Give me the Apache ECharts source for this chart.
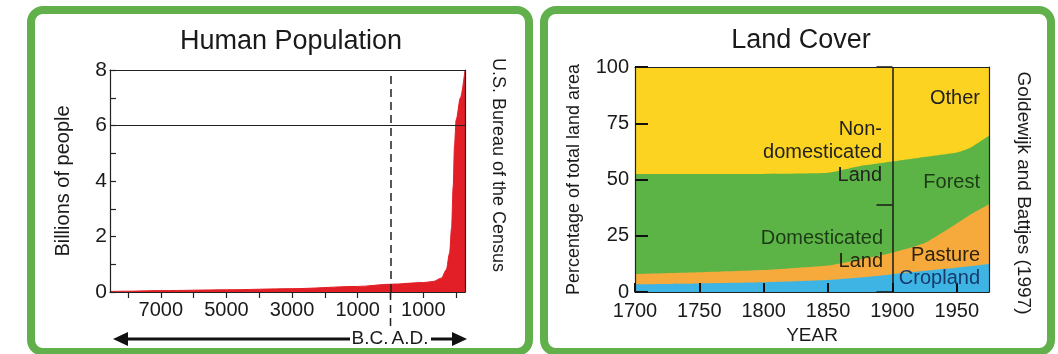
<!DOCTYPE html>
<html>
<head>
<meta charset="utf-8">
<script src="https://cdn.jsdelivr.net/npm/echarts@6/dist/echarts.min.js"></script>
<style>
html,body{margin:0;padding:0;background:#fff;width:1058px;height:354px;overflow:hidden;}
.panel{position:absolute;box-sizing:border-box;border:8px solid #62b04c;border-radius:16px;background:#fff;}
#chart{position:absolute;left:0;top:0;width:1058px;height:354px;}
</style>
</head>
<body>
<div class="panel" style="left:27px;top:6px;width:506px;height:350px;"></div>
<div class="panel" style="left:540px;top:6px;width:515px;height:350px;"></div>
<div id="chart"></div>
<script>
// ---- Human Population (years: negative = B.C.) ----
const popYears  = [-8550, -8000, -7000, -5000, -3000, -1000, 0, 1000, 1300, 1550, 1700, 1800, 1860, 1910, 1950, 2000, 2130, 2270];
const popValues = [0.02, 0.03, 0.05, 0.08, 0.12, 0.2, 0.28, 0.34, 0.38, 0.5, 0.8, 1.4, 2.3, 3.8, 5.3, 6.2, 7.0, 8.0];
const popTickYears  = [-8000, -7000, -6000, -5000, -4000, -3000, -2000, -1000, 0, 1000, 2000];
const popLabelYears = [-7000, -5000, -3000, -1000, 1000];
const popRefLine = 6;
const eraDivide = 0;

// ---- Land Cover (percent of total land area) ----
const landYears = [1700, 1750, 1800, 1850, 1875, 1900, 1925, 1950, 1960, 1975];
const cropland  = [3.4, 3.8, 4.3, 5.3, 6.4, 7.9, 9.4, 10.8, 11.4, 12.4];
const pasture   = [4.6, 5.0, 5.5, 6.5, 8.1, 9.6, 12.4, 19.7, 22.8, 26.6];
const forest    = [44.5, 43.7, 42.7, 41.2, 41.5, 40.5, 38.2, 31.5, 29.8, 30.5];
const other     = [47.5, 47.5, 47.5, 47.0, 44.0, 42.0, 40.0, 38.0, 36.0, 30.5];
const landDivideYear = 1900;
const divideTickValues = [100, 39, 0];

const FONT = '"Liberation Sans", Arial, sans-serif';
const chart = echarts.init(document.getElementById('chart'), null, {renderer: 'canvas'});

function pairs(xs, ys) { return xs.map((x, i) => [x, ys[i]]); }
// running totals, so each layer is painted from the axis up to its own top
const layers = [cropland, pasture, forest, other];
const tops = [];
layers.reduce((acc, arr) => { const t = arr.map((v, i) => +(acc[i] + v).toFixed(2)); tops.push(t); return t; }, landYears.map(() => 0));
const [cropTop, pastureTop, forestTop, otherTop] = tops;

const boxAxis = {show: true, axisLine: {show: true, onZero: false, lineStyle: {color: '#222', width: 1.2}}, axisTick: {show: false}, axisLabel: {show: false}, splitLine: {show: false}, z: 10};

function txt(id, x, y, text, opt) {
  opt = opt || {};
  return {type: 'text', id: id, x: x, y: y, z: 100, rotation: opt.rot || 0,
    style: {text: text, fill: opt.color || '#1a1a1a', font: (opt.size || 20) + 'px ' + FONT,
      align: opt.align || 'center', verticalAlign: 'middle'}};
}
function layer(name, top, color, extra) {
  return Object.assign({name: name, type: 'line', xAxisIndex: 2, yAxisIndex: 2, data: pairs(landYears, top),
    smooth: 0.15, symbol: 'none', showSymbol: false, lineStyle: {width: 0},
    itemStyle: {color: color}, areaStyle: {color: color, opacity: 1, origin: 'start'}}, extra || {});
}

const option = {
  animation: false,
  backgroundColor: 'transparent',
  grid: [
    {left: 110, top: 70, width: 355, height: 222},
    {left: 635, top: 67, width: 354, height: 225}
  ],
  xAxis: [
    {gridIndex: 0, type: 'value', min: -8550, max: 2270, position: 'bottom', z: 10,
      axisLine: {onZero: false, lineStyle: {color: '#222', width: 1.2}},
      axisTick: {show: true, inside: false, length: 6, customValues: popTickYears, lineStyle: {color: '#222', width: 1.2}},
      axisLabel: {customValues: popLabelYears, formatter: v => String(Math.abs(v)), color: '#1a1a1a', fontSize: 20, fontFamily: FONT, margin: 8},
      splitLine: {show: false}},
    Object.assign({gridIndex: 0, type: 'value', min: -8550, max: 2270, position: 'top'}, boxAxis),
    {gridIndex: 1, type: 'value', min: 1700, max: 1975, interval: 50, position: 'bottom', z: 10,
      name: 'YEAR', nameLocation: 'middle', nameGap: 34,
      nameTextStyle: {color: '#1a1a1a', fontSize: 19, fontFamily: FONT},
      axisLine: {onZero: false, lineStyle: {color: '#222', width: 1.2}},
      axisTick: {show: true, inside: true, length: 9, lineStyle: {color: '#111', width: 2}},
      axisLabel: {formatter: v => String(v), color: '#1a1a1a', fontSize: 20, fontFamily: FONT, margin: 9, showMaxLabel: false},
      splitLine: {show: false}},
    Object.assign({gridIndex: 1, type: 'value', min: 1700, max: 1975, position: 'top'}, boxAxis)
  ],
  yAxis: [
    {gridIndex: 0, type: 'value', min: 0, max: 8, interval: 1, position: 'left', z: 10,
      name: 'Billions of people', nameLocation: 'middle', nameGap: 37,
      nameTextStyle: {color: '#1a1a1a', fontSize: 20, fontFamily: FONT},
      axisLine: {show: true, onZero: false, lineStyle: {color: '#222', width: 1.2}},
      axisTick: {show: true, inside: true, length: 6, lineStyle: {color: '#222', width: 1.2}},
      axisLabel: {formatter: v => (v % 2 === 0 ? String(v) : ''), color: '#1a1a1a', fontSize: 21, fontFamily: FONT, margin: 3},
      splitLine: {show: false}},
    Object.assign({gridIndex: 0, type: 'value', min: 0, max: 8, position: 'right'}, boxAxis),
    {gridIndex: 1, type: 'value', min: 0, max: 100, interval: 25, position: 'left', z: 10,
      name: 'Percentage of total land area', nameLocation: 'middle', nameGap: 52,
      nameTextStyle: {color: '#1a1a1a', fontSize: 18, fontFamily: FONT},
      axisLine: {show: true, onZero: false, lineStyle: {color: '#222', width: 1.2}},
      axisTick: {show: true, inside: true, length: 13, lineStyle: {color: '#111', width: 2}},
      axisLabel: {color: '#1a1a1a', fontSize: 20, fontFamily: FONT, margin: 6},
      splitLine: {show: false}},
    Object.assign({gridIndex: 1, type: 'value', min: 0, max: 100, position: 'right'}, boxAxis)
  ],
  series: [
    {type: 'line', xAxisIndex: 0, yAxisIndex: 0, data: pairs(popYears, popValues),
      smooth: 0.3, smoothMonotone: 'x', showSymbol: false, symbol: 'none',
      lineStyle: {color: '#e21f26', width: 1}, itemStyle: {color: '#e21f26'},
      areaStyle: {color: '#e21f26', opacity: 1},
      markLine: {silent: true, symbol: 'none', label: {show: false},
        data: [
          {yAxis: popRefLine, lineStyle: {color: '#222', width: 1.2, type: 'solid'}},
          {xAxis: eraDivide, lineStyle: {color: '#222', width: 1.5, type: [8, 5]}}
        ]}},
    layer('Other', otherTop, '#fdd321'),
    layer('Forest', forestTop, '#5db446'),
    layer('Pasture', pastureTop, '#f6aa3c'),
    layer('Cropland', cropTop, '#3db4e4', {
      markLine: {silent: true, symbol: 'none', label: {show: false}, lineStyle: {color: '#1a1a1a', width: 1.5, type: 'solid'},
        data: [{xAxis: landDivideYear}].concat(divideTickValues.map(v => [{coord: [landDivideYear - 12.4, v]}, {coord: [landDivideYear, v]}]))}})
  ],
  graphic: [
    txt('t1', 291, 42, 'Human Population', {size: 27}),
    txt('t2', 801, 41, 'Land Cover', {size: 27}),
    txt('src1', 498, 165, 'U.S. Bureau of the Census', {size: 18, rot: -Math.PI / 2}),
    txt('src2', 1023, 193, 'Goldewijk and Battjes (1997)', {size: 19, rot: -Math.PI / 2}),
    txt('bc', 370, 339, 'B.C.', {size: 19}),
    txt('ad', 410, 339, 'A.D.', {size: 19}),
    {type: 'line', z: 100, shape: {x1: 124, y1: 339, x2: 350, y2: 339}, style: {stroke: '#111', lineWidth: 3}},
    {type: 'polygon', z: 100, shape: {points: [[113, 339], [128, 332], [128, 346]]}, style: {fill: '#111'}},
    {type: 'line', z: 100, shape: {x1: 431, y1: 339, x2: 456, y2: 339}, style: {stroke: '#111', lineWidth: 3}},
    {type: 'polygon', z: 100, shape: {points: [[467, 339], [452, 332], [452, 346]]}, style: {fill: '#111'}},
    txt('lo', 980, 98, 'Other', {align: 'right', color: '#222'}),
    txt('ln1', 882, 129, 'Non-', {align: 'right', color: '#222'}),
    txt('ln2', 882, 152, 'domesticated', {align: 'right', color: '#222'}),
    txt('ln3', 882, 175, 'Land', {align: 'right', color: '#222'}),
    txt('lf', 980, 182, 'Forest', {align: 'right', color: '#1c3a16'}),
    txt('ld1', 883, 238, 'Domesticated', {align: 'right', color: '#1c3a16'}),
    txt('ld2', 883, 261, 'Land', {align: 'right', color: '#2a2410'}),
    txt('lp', 980, 255, 'Pasture', {align: 'right', color: '#2e2210'}),
    txt('lc', 980, 278, 'Cropland', {align: 'right', color: '#173a6a'})
  ]
};
chart.setOption(option);

// extend the B.C./A.D. dashed divider below the plot, located through the axis scale
const pBase = chart.convertToPixel({xAxisIndex: 0, yAxisIndex: 0}, [eraDivide, 0]);
chart.setOption({graphic: [
  {type: 'line', id: 'divExt', z: 100, shape: {x1: pBase[0], y1: pBase[1], x2: pBase[0], y2: 331},
    style: {stroke: '#222', lineWidth: 1.5, lineDash: [8, 5]}}
]});
</script>
</body>
</html>
